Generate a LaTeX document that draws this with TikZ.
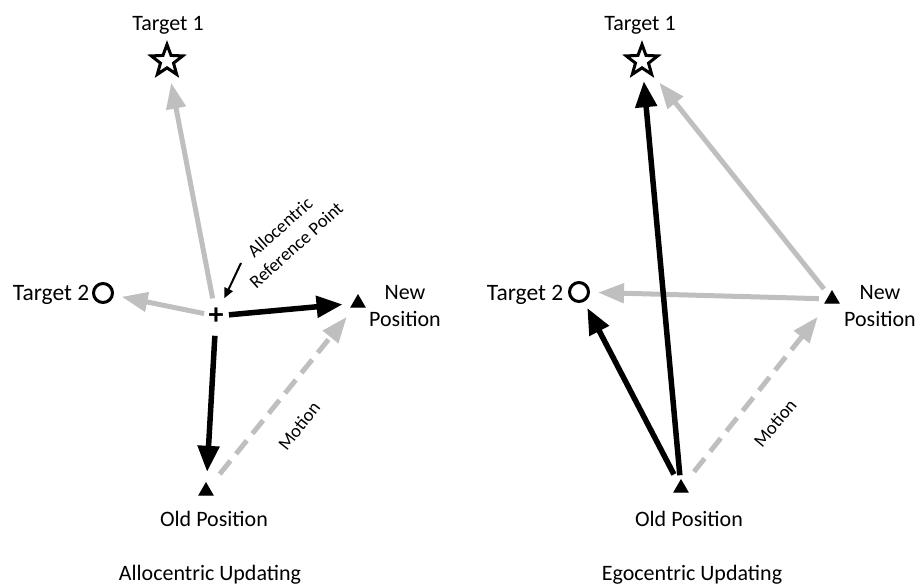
\documentclass[tikz,border=0pt]{standalone}
\usepackage{fontspec}
\setmainfont{Carlito}
\usetikzlibrary{shapes}
\usetikzlibrary{arrows.meta}
\definecolor{lightgrey}{RGB}{191,191,191}

\begin{document}
\begin{tikzpicture}[x=1pt, y=-1pt, line width=1pt,
    font=\fontsize{22}{27}\selectfont,
    blackarrow/.style={line width=5.5pt, -{Triangle[length=26pt, width=21pt]}},
    greyarrow/.style={line width=5pt, color=lightgrey, -{Triangle[length=26pt, width=19pt]}},
    motionarrow/.style={greyarrow, dash pattern=on 17pt off 9pt},
    posmarker/.style={draw=black, fill=black, regular polygon, regular polygon sides=3, minimum size=16pt, inner sep=0pt},
    starmarker/.style={draw=black, line width=3pt, star, star points=5, star point ratio=2.4, minimum size=33pt, inner sep=0pt},
    circmarker/.style={draw=black, line width=3pt, circle, minimum size=19pt, inner sep=0pt},
    smalltext/.style={font=\fontsize{18.5}{24}\selectfont, align=center, inner sep=0pt}]

    \useasboundingbox (0, 0) rectangle (919, 584);

    %%%%%%%%
    % allocentric picture
    %%%%%%%%

    % targets and positions
    \node[starmarker] (lstar) at (167, 61) {};
    \node[anchor=base] (ltargetone) at (168, 30) {Target 1};
    \node[circmarker] (lcirc) at (103, 293) {};
    \node[anchor=base east, font=\fontsize{23.5}{27}\selectfont] (ltargettwo) at (93, 300) {Target 2};
    \node[inner sep=0pt, font=\bfseries\fontsize{30}{30}\selectfont] (lref) at (216, 316) {+};
    \node[posmarker] (lnew) at (358, 303) {};
    \node[posmarker] (lold) at (206, 491) {};
    \node[align=center] (lnewlabel) at (405, 306.5) {New\\Position};
    \node[anchor=base] (loldlabel) at (214, 526) {Old Position};

    % reference point label
    \node[smalltext, rotate=42] (lreflabel) at (288, 236) {Allocentric\\Reference Point};
    \coordinate (lrefptr) at (241, 263);
    \draw[line width=2pt, -{Triangle[length=10pt, width=9pt]}, shorten >=10pt] (lrefptr) -- (lref);

    % draw vectors
    \draw[greyarrow, shorten <=9pt, shorten >=12pt] (lref) -- (lstar);
    \draw[greyarrow, shorten <=4pt, shorten >=8pt] (lref) -- (lcirc);
    \draw[blackarrow, shorten <=5pt, shorten >=10pt] (lref) -- (lnew);
    \draw[blackarrow, shorten <=11pt, shorten >=11pt] (lref) -- (lold);
    \draw[motionarrow, shorten <=17pt, shorten >=12pt] (lold) -- (lnew);
    \node[smalltext, rotate=52] (lmotion) at (299, 426) {Motion};

    \node[anchor=base] (ltitle) at (210, 580) {Allocentric Updating};

    %%%%%%%%
    % egocentric picture
    %%%%%%%%

    % targets and positions
    \node[starmarker] (rstar) at (642, 61) {};
    \node[anchor=base] (rtargetone) at (640, 30) {Target 1};
    \node[circmarker] (rcirc) at (579, 292) {};
    \node[anchor=base east, font=\fontsize{23.5}{27}\selectfont] (rtargettwo) at (567, 300) {Target 2};
    \node[posmarker] (rnew) at (832, 299) {};
    \node[posmarker] (rold) at (681, 488) {};
    \node[align=center] (rnewlabel) at (880, 306.5) {New\\Position};
    \node[anchor=base] (roldlabel) at (689, 526) {Old Position};

    % draw vectors
    \draw[greyarrow, shorten <=8pt, shorten >=9pt] (rnew) -- (rstar);
    \draw[greyarrow, shorten <=8pt, shorten >=8pt] (rnew) -- (rcirc);
    \draw[blackarrow, shorten <=5pt, shorten >=11pt] (rold) -- (rstar);
    \draw[blackarrow, shorten <=10pt, shorten >=7pt] (rold) -- (rcirc);
    \draw[motionarrow, shorten <=16pt, shorten >=17pt] (rold) -- (rnew);
    \node[smalltext, rotate=50] (rmotion) at (775, 423) {Motion};

    \node[anchor=base] (rtitle) at (692, 580) {Egocentric Updating};
\end{tikzpicture}
\end{document}
